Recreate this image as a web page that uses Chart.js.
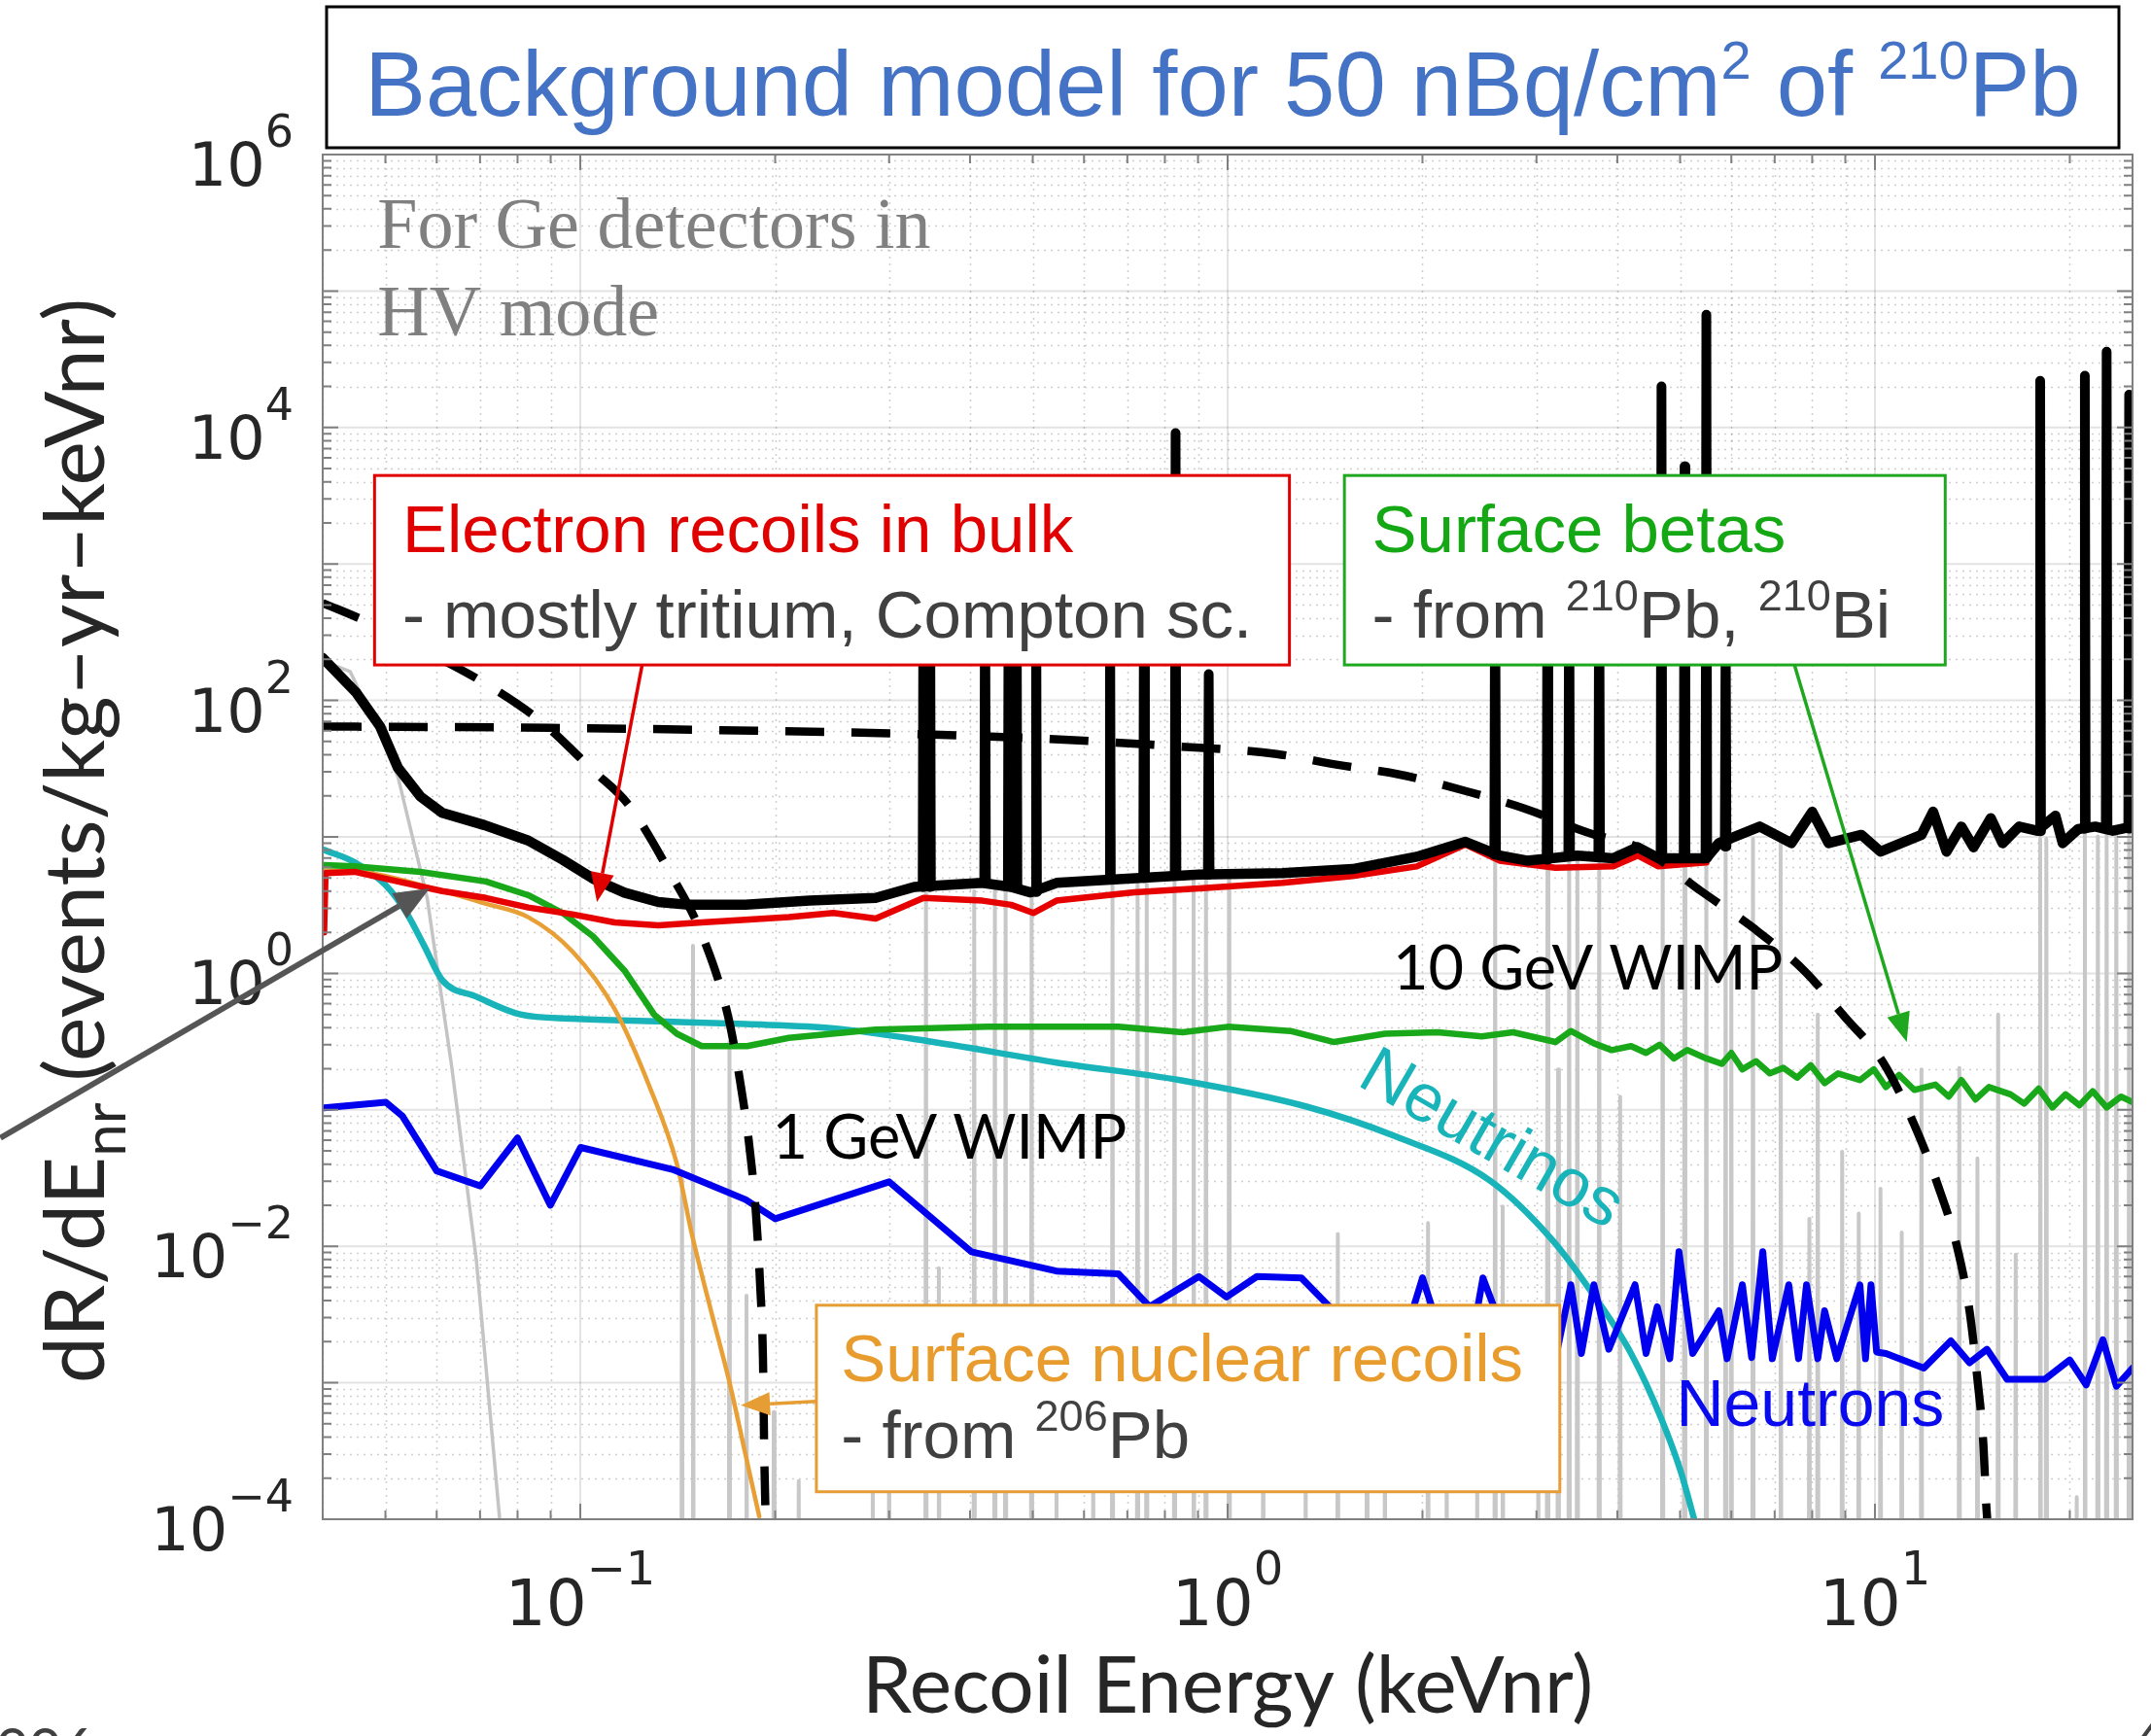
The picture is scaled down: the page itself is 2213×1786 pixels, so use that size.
<!DOCTYPE html>
<html lang="en">
<head>
<meta charset="UTF-8">
<title>Background model for 50 nBq/cm2 of 210Pb</title>
<style>
  html, body { margin: 0; padding: 0; background: #ffffff; overflow: hidden; }
  canvas { display: block; }
</style>
</head>
<body>

<canvas id="bg-chart" width="2213" height="1786"></canvas>

<script src="https://cdn.jsdelivr.net/npm/chart.js@4.4.1/dist/chart.umd.min.js"></script>
<script>
// x: recoil energy (keVnr), y: rate (events/kg-yr-keVnr)

// total background (black), continuum part
const totalE = [0.040, 0.0450, 0.0491, 0.0523, 0.0566, 0.0612, 0.0711, 0.0831, 0.0939, 0.105, 0.117, 0.132, 0.147, 0.180, 0.226, 0.286, 0.328, 0.418, 0.463, 0.496, 0.544, 0.639, 0.903, 1.216, 1.56, 1.96, 2.33, 2.63, 2.90, 3.47, 3.94, 4.30, 4.63, 5.49, 5.74, 6.64, 7.43, 8.00, 8.48, 9.53, 10.2, 11.8, 12.3, 12.9, 13.6, 14.2, 15.1, 15.75, 16.7, 17.8, 19.0, 19.5, 20.6, 21.9, 23.3, 25.0];
const totalR = [205, 115, 64, 32, 19.8, 15.0, 12.2, 9.4, 6.8, 4.9, 3.9, 3.33, 3.18, 3.18, 3.41, 3.57, 4.30, 4.60, 4.30, 3.92, 4.60, 4.82, 5.29, 5.42, 5.81, 7.15, 9.2, 7.3, 6.7, 7.3, 6.98, 8.4, 6.98, 6.98, 9.0, 11.9, 9.0, 15.3, 9.0, 10.35, 7.8, 10.35, 15.3, 7.8, 11.9, 8.4, 13.7, 9.0, 11.9, 11.1, 14.3, 9.0, 11.4, 11.9, 11.1, 11.9];

// peaks on top of the total: energy, height, level at the foot
const peakE    = [0.339, 0.347, 0.422, 0.459, 0.472, 0.506, 0.658, 0.743, 0.831, 0.935, 2.59, 3.12, 3.37, 3.75, 4.68, 5.08, 5.49, 5.88, 18.0, 21.1, 22.8, 24.7];
const peakTop  = [1500, 1500, 1500, 1500, 1500, 1500, 1500, 1500, 9100, 156, 1500, 1500, 1500, 1500, 20000, 5200, 67000, 400, 22000, 24000, 36000, 17400];
const peakFoot = [4.3, 4.3, 4.6, 4.35, 4.3, 3.95, 4.85, 5.0, 5.2, 5.3, 7.4, 6.8, 7.2, 7.2, 7.0, 7.0, 7.0, 8.5, 11.0, 11.5, 11.5, 11.5];

// grey: HV mode curve and its lines
const hvE = [0.040, 0.0441, 0.0484, 0.0523, 0.0580, 0.0633, 0.0691, 0.0750, 0.078];
const hvR = [195, 163, 64.4, 27.4, 3.57, 0.207, 0.0079, 1.05e-4, 1.2e-5];
const hvLineE   = [0.1436, 0.1493, 0.170, 0.1806, 0.199, 0.2175, 0.283, 0.300, 0.342, 0.358, 0.406, 0.437, 0.454, 0.498, 0.544, 0.620, 0.664, 0.726, 0.750, 0.828, 0.886, 0.926, 1.006, 1.135, 1.32, 1.48, 1.64, 1.75, 2.04, 2.18, 2.43, 2.59, 2.66, 3.02, 3.12, 3.24, 3.37, 3.47, 3.75, 4.04, 4.70, 5.08, 5.49, 5.88, 6.00, 6.48, 7.15, 7.92, 8.16, 8.90, 9.44, 10.2, 11.0, 11.8, 13.5, 14.4, 15.5, 16.5, 18.0, 18.4, 20.5, 21.1, 22.1, 22.8, 23.6, 24.7];
const hvLineTop = [0.031, 1.59, 0.314, 0.00435, 6.1e-4, 1.9e-4, 2.4e-4, 3.8e-4, 4.0, 0.0069, 4.0, 4.0, 4.0, 3.57, 3.0e-4, 2.7e-4, 4.5, 4.5, 4.5, 5.05, 5.05, 5.05, 5.05, 0.00122, 2.7e-4, 0.0123, 2.4e-4, 4.8e-4, 0.0148, 3.0e-4, 1.9e-4, 7.15, 0.0196, 2.4e-4, 6.67, 0.198, 7.15, 7.15, 7.15, 0.125, 7.15, 7.15, 6.98, 9.0, 1.26, 9.66, 10.1, 0.0159, 0.50, 0.0493, 0.0174, 0.0264, 0.0126, 0.198, 0.203, 0.044, 0.50, 0.0087, 9.66, 9.66, 1.45e-4, 11.4, 10.1, 11.4, 10.1, 11.4];
const lineFloor = 1e-6;

// electron recoils in bulk (red)
const erE = [0.0402, 0.0404, 0.0448, 0.0523, 0.0612, 0.0715, 0.0831, 0.0972, 0.113, 0.132, 0.154, 0.180, 0.210, 0.246, 0.286, 0.339, 0.418, 0.463, 0.501, 0.544, 0.718, 0.903, 1.216, 1.56, 1.96, 2.33, 2.63, 3.21, 3.94, 4.30, 4.63, 5.49];
const erR = [2.0, 5.42, 5.55, 4.71, 4.01, 3.57, 3.04, 2.71, 2.36, 2.25, 2.36, 2.47, 2.58, 2.77, 2.52, 3.57, 3.41, 3.18, 2.77, 3.41, 3.92, 4.20, 4.60, 5.17, 6.08, 8.8, 6.7, 5.94, 6.08, 7.3, 6.08, 6.5];

// surface betas (green)
const betaE = [0.0402, 0.0448, 0.0566, 0.0715, 0.0831, 0.0939, 0.1046, 0.117, 0.130, 0.141, 0.154, 0.167, 0.181, 0.210, 0.286, 0.426, 0.678, 0.852, 1.00, 1.25, 1.46, 1.75, 2.11, 2.47, 2.76, 3.21, 3.39, 3.68, 3.92, 4.20, 4.43, 4.65, 4.89, 5.13, 5.49, 5.80, 6.00, 6.24, 6.55, 6.88, 7.22, 7.58, 7.96, 8.36, 8.77, 9.48, 9.96, 10.4, 10.9, 11.5, 12.4, 13.0, 13.6, 14.3, 15.0, 16.2, 17.0, 17.9, 18.8, 19.7, 20.7, 21.7, 22.8, 24.0, 25.0];
const betaR = [6.22, 6.08, 5.54, 4.71, 3.74, 2.77, 1.87, 1.05, 0.50, 0.361, 0.293, 0.293, 0.293, 0.337, 0.387, 0.406, 0.406, 0.370, 0.406, 0.378, 0.314, 0.361, 0.370, 0.345, 0.370, 0.314, 0.378, 0.307, 0.274, 0.293, 0.261, 0.300, 0.238, 0.274, 0.238, 0.217, 0.261, 0.198, 0.227, 0.185, 0.203, 0.172, 0.212, 0.157, 0.185, 0.165, 0.198, 0.147, 0.180, 0.140, 0.153, 0.125, 0.165, 0.119, 0.147, 0.130, 0.111, 0.143, 0.104, 0.130, 0.108, 0.137, 0.104, 0.125, 0.114];

// neutrinos (cyan)
const nuE = [0.0402, 0.0448, 0.0501, 0.0539, 0.0574, 0.0612, 0.0691, 0.0808, 0.0972, 0.132, 0.180, 0.246, 0.351, 0.544, 0.844, 1.32, 1.82, 2.54, 3.18, 3.68, 4.20, 4.68, 5.01, 5.28];
const nuR = [8.03, 6.52, 4.40, 2.77, 1.59, 0.891, 0.675, 0.50, 0.466, 0.445, 0.425, 0.396, 0.314, 0.222, 0.165, 0.106, 0.0637, 0.0304, 0.011, 0.00435, 0.00164, 5.42e-4, 2.25e-4, 9.3e-5];

// surface nuclear recoils (orange)
const snrE = [0.0402, 0.0474, 0.0591, 0.0711, 0.0831, 0.0972, 0.113, 0.128, 0.141, 0.149, 0.159, 0.170, 0.180, 0.189];
const snrR = [5.67, 5.42, 4.20, 3.26, 2.58, 1.45, 0.548, 0.147, 0.0401, 0.0118, 0.00345, 0.00101, 2.97e-4, 1.05e-4];

// neutrons (blue)
const neutE = [0.0402, 0.0501, 0.0531, 0.0600, 0.0701, 0.0800, 0.0899, 0.1001, 0.1388, 0.180, 0.200, 0.300, 0.402, 0.544, 0.678, 0.758, 0.903, 0.996, 1.11, 1.30, 1.43, 1.55, 1.89, 2.00, 2.13, 2.41, 2.48, 2.66, 3.21, 3.39, 3.52, 3.68, 3.88, 4.26, 4.43, 4.61, 4.82, 4.98, 5.23, 5.74, 5.91, 6.24, 6.45, 6.71, 6.94, 7.36, 7.62, 7.84, 8.16, 8.36, 8.73, 9.48, 9.67, 9.86, 10.06, 10.4, 11.9, 13.1, 14.0, 14.9, 16.0, 18.3, 20.0, 21.2, 22.5, 23.6, 25.0];
const neutR = [0.1035, 0.1135, 0.0902, 0.0357, 0.0277, 0.0622, 0.0200, 0.0530, 0.0366, 0.0220, 0.0159, 0.0297, 0.00912, 0.00659, 0.00629, 0.00361, 0.00601, 0.00425, 0.00601, 0.00587, 0.0037, 0.00244, 0.00244, 0.00587, 0.00233, 0.00274, 0.00587, 0.00244, 0.0015, 0.00523, 0.00164, 0.00523, 0.00176, 0.00523, 0.00164, 0.00361, 0.0015, 0.00912, 0.00164, 0.00337, 0.0015, 0.00523, 0.00153, 0.00912, 0.0015, 0.00523, 0.0015, 0.00523, 0.0015, 0.00337, 0.0015, 0.00523, 0.0015, 0.00523, 0.00168, 0.00164, 0.00128, 0.00203, 0.0014, 0.00176, 0.00106, 0.00106, 0.00147, 9.66e-4, 0.00207, 9.44e-4, 0.00128];

// WIMP signals (dashed)
const wimp1E = [0.040, 0.0470, 0.0549, 0.0715, 0.0873, 0.1046, 0.1187, 0.1381, 0.1545, 0.1695, 0.177, 0.1824, 0.1868, 0.1896, 0.1915, 0.1924, 0.1934];
const wimp1R = [518, 374, 258, 132, 69, 30.7, 17.2, 5.3, 1.87, 0.466, 0.15, 0.055, 0.0174, 0.0052, 0.00153, 2.96e-4, 9.5e-5];
const wimp10E = [0.040, 0.0895, 0.186, 0.303, 0.518, 0.804, 1.19, 1.48, 1.84, 2.33, 2.88, 3.59, 4.39, 5.39, 6.49, 7.77, 8.99, 10.3, 11.5, 12.5, 13.4, 14.0, 14.4, 14.7, 14.86, 14.95];
const wimp10R = [64.4, 63, 60, 57.4, 52.4, 46.6, 40.5, 33.7, 28.7, 21.7, 16.1, 10.8, 8.03, 4.0, 2.15, 1.05, 0.477, 0.222, 0.078, 0.0283, 0.0098, 0.00337, 0.00106, 3.66e-4, 1.26e-4, 8.5e-5];

// axis limits
const xMin = 0.04, xMax = 25, yMin = 1e-4, yMax = 1e6;

function zip(xs, ys) {
    return xs.map((x, i) => ({ x: x, y: ys[i] }));
}

// narrow triangular peaks, separated by gaps
const peakHalfWidth = 0.003;
function peaks(xs, tops, feet) {
    const out = [];
    xs.forEach((x, i) => {
        out.push({ x: x * (1 - peakHalfWidth), y: feet[i] });
        out.push({ x: x, y: tops[i] });
        out.push({ x: x * (1 + peakHalfWidth), y: feet[i] });
        out.push({ x: x * (1 + peakHalfWidth), y: null });
    });
    return out;
}

const sansFont = '"Liberation Sans", Arial, sans-serif';
const tickFont = '"DejaVu Sans", sans-serif';
const labelFont = 'Lato, "Noto Sans", sans-serif';

// draw a row of text pieces (for super/subscripts)
function rich(ctx, segs, x, y, family, align) {
    let w = 0;
    segs.forEach(s => {
        ctx.font = s.size + 'px ' + family;
        s.w = ctx.measureText(s.t).width;
        w += s.w;
    });
    let cx = align === 'center' ? x - w / 2 : (align === 'right' ? x - w : x);
    segs.forEach(s => {
        ctx.font = s.size + 'px ' + family;
        ctx.fillStyle = s.color;
        ctx.fillText(s.t, cx, y + (s.dy || 0));
        cx += s.w;
    });
}

function arrow(ctx, x0, y0, x1, y1, color, width, headLen, headW) {
    const ang = Math.atan2(y1 - y0, x1 - x0);
    const bx = x1 - headLen * Math.cos(ang);
    const by = y1 - headLen * Math.sin(ang);
    ctx.strokeStyle = color;
    ctx.fillStyle = color;
    ctx.lineWidth = width;
    ctx.setLineDash([]);
    ctx.beginPath();
    ctx.moveTo(x0, y0);
    ctx.lineTo(bx, by);
    ctx.stroke();
    ctx.beginPath();
    ctx.moveTo(x1, y1);
    ctx.lineTo(bx + headW * Math.sin(ang), by - headW * Math.cos(ang));
    ctx.lineTo(bx - headW * Math.sin(ang), by + headW * Math.cos(ang));
    ctx.closePath();
    ctx.fill();
}

// log tick values inside [lo, hi]
function logTicks(lo, hi) {
    const out = [];
    for (let d = Math.floor(Math.log10(lo)) - 1; d <= Math.ceil(Math.log10(hi)); d++) {
        for (let m = 1; m <= 9; m++) {
            const v = m * Math.pow(10, d);
            if (v >= lo * 0.999 && v <= hi * 1.001) out.push({ v: v, major: m === 1 });
        }
    }
    return out;
}

const darkGrey = '#404040';
const textBoxes = [
    { x1: 0.0481, x2: 1.246, yTop: 4450, yBot: 182, color: '#e00000', textX: 0.0531,
      lines: [
          { y: 1217, segs: [{ t: 'Electron recoils in bulk', size: 69, color: '#e00000' }] },
          { y: 290, segs: [{ t: '- mostly tritium, Compton sc.', size: 69, color: darkGrey }] }
      ] },
    { x1: 1.515, x2: 12.84, yTop: 4450, yBot: 182, color: '#1fa81f', textX: 1.671,
      lines: [
          { y: 1217, segs: [{ t: 'Surface betas', size: 69, color: '#14a814' }] },
          { y: 290, segs: [{ t: '- from ', size: 69, color: darkGrey }, { t: '210', size: 45, dy: -28, color: darkGrey },
                           { t: 'Pb, ', size: 69, color: darkGrey }, { t: '210', size: 45, dy: -28, color: darkGrey },
                           { t: 'Bi', size: 69, color: darkGrey }] }
      ] },
    { x1: 0.2316, x2: 3.26, yTop: 0.0037, yBot: 1.59e-4, color: '#e59d34', textX: 0.2528,
      lines: [
          { y: 0.001035, segs: [{ t: 'Surface nuclear recoils', size: 69, color: '#e89c2e' }] },
          { y: 2.83e-4, segs: [{ t: '- from ', size: 69, color: darkGrey }, { t: '206', size: 45, dy: -28, color: darkGrey },
                               { t: 'Pb', size: 69, color: darkGrey }] }
      ] }
];

const arrows = [
    { from: [0.1246, 182], to: [0.1061, 3.33], color: '#e00000', width: 3.5 },
    { from: [7.51, 182], to: [11.2, 0.3144], color: '#1fa81f', width: 3.5 },
    { from: [0.2316, 7.31e-4], to: [0.177, 6.83e-4], color: '#e59d34', width: 3.5 }
];

const figurePlugin = {
    id: 'figurePlugin',
    beforeDatasetsDraw(chart) {
        const { ctx, chartArea: a, scales: { x, y } } = chart;
        ctx.save();
        ctx.beginPath();
        ctx.rect(a.left, a.top, a.width, a.height);
        ctx.clip();
        const xt = logTicks(xMin, xMax), yt = logTicks(yMin, yMax);
        // minor grid, dotted
        ctx.strokeStyle = 'rgba(38,38,38,0.22)';
        ctx.lineWidth = 1.5;
        ctx.setLineDash([2, 5]);
        xt.filter(t => !t.major).forEach(t => {
            const p = Math.round(x.getPixelForValue(t.v)) + 0.5;
            ctx.beginPath(); ctx.moveTo(p, a.top); ctx.lineTo(p, a.bottom); ctx.stroke();
        });
        yt.filter(t => !t.major).forEach(t => {
            const p = Math.round(y.getPixelForValue(t.v)) + 0.5;
            ctx.beginPath(); ctx.moveTo(a.left, p); ctx.lineTo(a.right, p); ctx.stroke();
        });
        // major grid, solid
        ctx.setLineDash([]);
        ctx.strokeStyle = 'rgba(38,38,38,0.13)';
        ctx.lineWidth = 2;
        xt.filter(t => t.major).forEach(t => {
            const p = x.getPixelForValue(t.v);
            ctx.beginPath(); ctx.moveTo(p, a.top); ctx.lineTo(p, a.bottom); ctx.stroke();
        });
        yt.filter(t => t.major).forEach(t => {
            const p = y.getPixelForValue(t.v);
            ctx.beginPath(); ctx.moveTo(a.left, p); ctx.lineTo(a.right, p); ctx.stroke();
        });
        ctx.restore();
    },
    afterDraw(chart) {
        const { ctx, chartArea: a, scales: { x, y } } = chart;
        const P = (xv, yv) => [x.getPixelForValue(xv), y.getPixelForValue(yv)];
        ctx.save();
        ctx.textBaseline = 'alphabetic';
        ctx.textAlign = 'left';

        // axes frame and tick marks
        const xt = logTicks(xMin, xMax), yt = logTicks(yMin, yMax);
        ctx.strokeStyle = '#808080';
        ctx.lineWidth = 2;
        ctx.strokeRect(a.left, a.top, a.width, a.height);
        xt.forEach(t => {
            const p = x.getPixelForValue(t.v), len = t.major ? 16 : 9;
            ctx.beginPath();
            ctx.moveTo(p, a.bottom); ctx.lineTo(p, a.bottom - len);
            ctx.moveTo(p, a.top); ctx.lineTo(p, a.top + len);
            ctx.stroke();
        });
        yt.forEach(t => {
            const p = y.getPixelForValue(t.v), len = t.major ? 16 : 9;
            ctx.beginPath();
            ctx.moveTo(a.left, p); ctx.lineTo(a.left + len, p);
            ctx.moveTo(a.right, p); ctx.lineTo(a.right - len, p);
            ctx.stroke();
        });

        // text boxes
        textBoxes.forEach(b => {
            const [l, t] = P(b.x1, b.yTop);
            const [r, btm] = P(b.x2, b.yBot);
            ctx.fillStyle = '#ffffff';
            ctx.fillRect(l, t, r - l, btm - t);
            ctx.strokeStyle = b.color;
            ctx.lineWidth = 3;
            ctx.strokeRect(l, t, r - l, btm - t);
            b.lines.forEach(ln => {
                const [tx, ty] = P(b.textX, ln.y);
                rich(ctx, ln.segs, tx, ty, sansFont, 'left');
            });
        });
        arrows.forEach(ar => {
            const [x0, y0] = P(ar.from[0], ar.from[1]);
            const [x1, y1] = P(ar.to[0], ar.to[1]);
            arrow(ctx, x0, y0, x1, y1, ar.color, ar.width, 30, 12);
        });

        // curve labels
        let q = P(0.0486, 2.07e5);
        ctx.font = '74px "Liberation Serif", "DejaVu Serif", serif';
        ctx.fillStyle = '#808080';
        ctx.fillText('For Ge detectors in', q[0], q[1]);
        q = P(0.0486, 4.71e4);
        ctx.fillText('HV mode', q[0], q[1]);

        ctx.font = '63px ' + labelFont;
        ctx.fillStyle = '#000000';
        q = P(1.80, 0.757);
        ctx.fillText('10 GeV WIMP', q[0], q[1]);
        q = P(0.198, 0.044);
        ctx.fillText('1 GeV WIMP', q[0], q[1]);

        ctx.font = '68px ' + sansFont;
        ctx.fillStyle = '#0a0aee';
        q = P(4.93, 4.82e-4);
        ctx.fillText('Neutrons', q[0], q[1]);

        q = P(2.55, 0.0594);
        ctx.save();
        ctx.translate(q[0], q[1]);
        ctx.rotate(30 * Math.PI / 180);
        ctx.textAlign = 'center';
        ctx.textBaseline = 'middle';
        ctx.fillStyle = '#19b4b9';
        ctx.font = '70px ' + sansFont;
        ctx.fillText('Neutrinos', 0, 0);
        ctx.restore();

        // tick labels
        const axisText = '#262626';
        [-4, -2, 0, 2, 4, 6].forEach(d => {
            const p = y.getPixelForValue(Math.pow(10, d));
            const e = d < 0 ? '\u2212' + (-d) : String(d);
            rich(ctx, [{ t: '10', size: 62, color: axisText }, { t: e, size: 46, dy: -40, color: axisText }],
                 a.left - 30, p + 32, tickFont, 'right');
        });
        [-1, 0, 1].forEach(d => {
            const p = x.getPixelForValue(Math.pow(10, d));
            const e = d < 0 ? '\u2212' + (-d) : String(d);
            rich(ctx, [{ t: '10', size: 66, color: axisText }, { t: e, size: 48, dy: -42, color: axisText }],
                 p, a.bottom + 109, tickFont, 'center');
        });

        // axis titles
        rich(ctx, [{ t: 'Recoil Energy (keVnr)', size: 82, color: axisText }],
             (a.left + a.right) / 2, a.bottom + 199, labelFont, 'center');
        ctx.save();
        ctx.translate(107, (a.top + a.bottom) / 2 + 4);
        ctx.rotate(-Math.PI / 2);
        rich(ctx, [{ t: 'dR/dE', size: 86, color: axisText }, { t: 'nr', size: 60, dy: 22, color: axisText },
                   { t: ' (events/kg\u2013yr\u2013keVnr)', size: 86, color: axisText }], 0, 0, labelFont, 'center');
        ctx.restore();

        // title box
        ctx.strokeStyle = '#000000';
        ctx.lineWidth = 3;
        ctx.fillStyle = '#ffffff';
        ctx.fillRect(336, 7, 1844, 145);
        ctx.strokeRect(336, 7, 1844, 145);
        const blue = '#4472c4';
        rich(ctx, [{ t: 'Background model for 50 nBq/cm', size: 94, color: blue }, { t: '2', size: 56, dy: -38, color: blue },
                   { t: ' of ', size: 94, color: blue }, { t: '210', size: 56, dy: -38, color: blue },
                   { t: 'Pb', size: 94, color: blue }], 1258, 119, sansFont, 'center');

        // grey pointer from the left margin
        const [g0x, g0y] = P(0.01271, 0.0622);
        const [g1x, g1y] = P(0.0585, 4.2);
        arrow(ctx, g0x, g0y, g1x, g1y, '#555555', 6, 36, 15);

        // cut-off slide text at the bottom corners
        ctx.font = '58px ' + labelFont;
        ctx.fillStyle = '#404040';
        ctx.fillText('006', -4, 1820);
        ctx.fillText('4', 2192, 1815);
        ctx.restore();
    }
};

const lineBase = { pointRadius: 0, tension: 0, fill: false, clip: 0, borderJoinStyle: 'round', borderCapStyle: 'round' };

new Chart(document.getElementById('bg-chart'), {
    type: 'line',
    data: {
        datasets: [
            Object.assign({}, lineBase, { label: 'HV lines', data: peaks(hvLineE, hvLineTop, hvLineE.map(() => lineFloor)), borderColor: '#c8c8c8', borderWidth: 4, order: 20 }),
            Object.assign({}, lineBase, { label: 'HV mode', data: zip(hvE, hvR), borderColor: '#c4c4c4', borderWidth: 3.5, order: 19 }),
            Object.assign({}, lineBase, { label: 'Neutrinos', data: zip(nuE, nuR), borderColor: '#19b4b9', borderWidth: 6.5, cubicInterpolationMode: 'monotone', order: 8 }),
            Object.assign({}, lineBase, { label: 'Surface nuclear recoils', data: zip(snrE, snrR), borderColor: '#e89f35', borderWidth: 4.5, cubicInterpolationMode: 'monotone', order: 7 }),
            Object.assign({}, lineBase, { label: 'Neutrons', data: zip(neutE, neutR), borderColor: '#0000ee', borderWidth: 7, order: 6 }),
            Object.assign({}, lineBase, { label: 'Surface betas', data: zip(betaE, betaR), borderColor: '#19a819', borderWidth: 6.5, order: 5 }),
            Object.assign({}, lineBase, { label: 'Electron recoils', data: zip(erE, erR), borderColor: '#e60000', borderWidth: 6.5, order: 4 }),
            Object.assign({}, lineBase, { label: 'Total', data: zip(totalE, totalR), borderColor: '#000000', borderWidth: 10.5, order: 3 }),
            Object.assign({}, lineBase, { label: 'Total peaks', data: peaks(peakE, peakTop, peakFoot), borderColor: '#000000', borderWidth: 10, order: 3 }),
            Object.assign({}, lineBase, { label: '1 GeV WIMP', data: zip(wimp1E, wimp1R), borderColor: '#000000', borderWidth: 8.5, borderDash: [40, 28], borderCapStyle: 'butt', cubicInterpolationMode: 'monotone', order: 1 }),
            Object.assign({}, lineBase, { label: '10 GeV WIMP', data: zip(wimp10E, wimp10R), borderColor: '#000000', borderWidth: 8.5, borderDash: [40, 28], borderCapStyle: 'butt', cubicInterpolationMode: 'monotone', order: 1 })
        ]
    },
    options: {
        responsive: false,
        animation: false,
        devicePixelRatio: 1,
        layout: { padding: { left: 0, right: 19, top: 159, bottom: 0 } },
        plugins: {
            legend: { display: false },
            tooltip: { enabled: false },
            title: { display: false }
        },
        scales: {
            x: {
                type: 'logarithmic', min: xMin, max: xMax,
                grid: { display: false }, border: { display: false }, ticks: { display: false },
                afterFit: s => { s.height = 223; }
            },
            y: {
                type: 'logarithmic', min: yMin, max: yMax,
                grid: { display: false }, border: { display: false }, ticks: { display: false },
                afterFit: s => { s.width = 332; }
            }
        }
    },
    plugins: [figurePlugin]
});
</script>

</body>
</html>
